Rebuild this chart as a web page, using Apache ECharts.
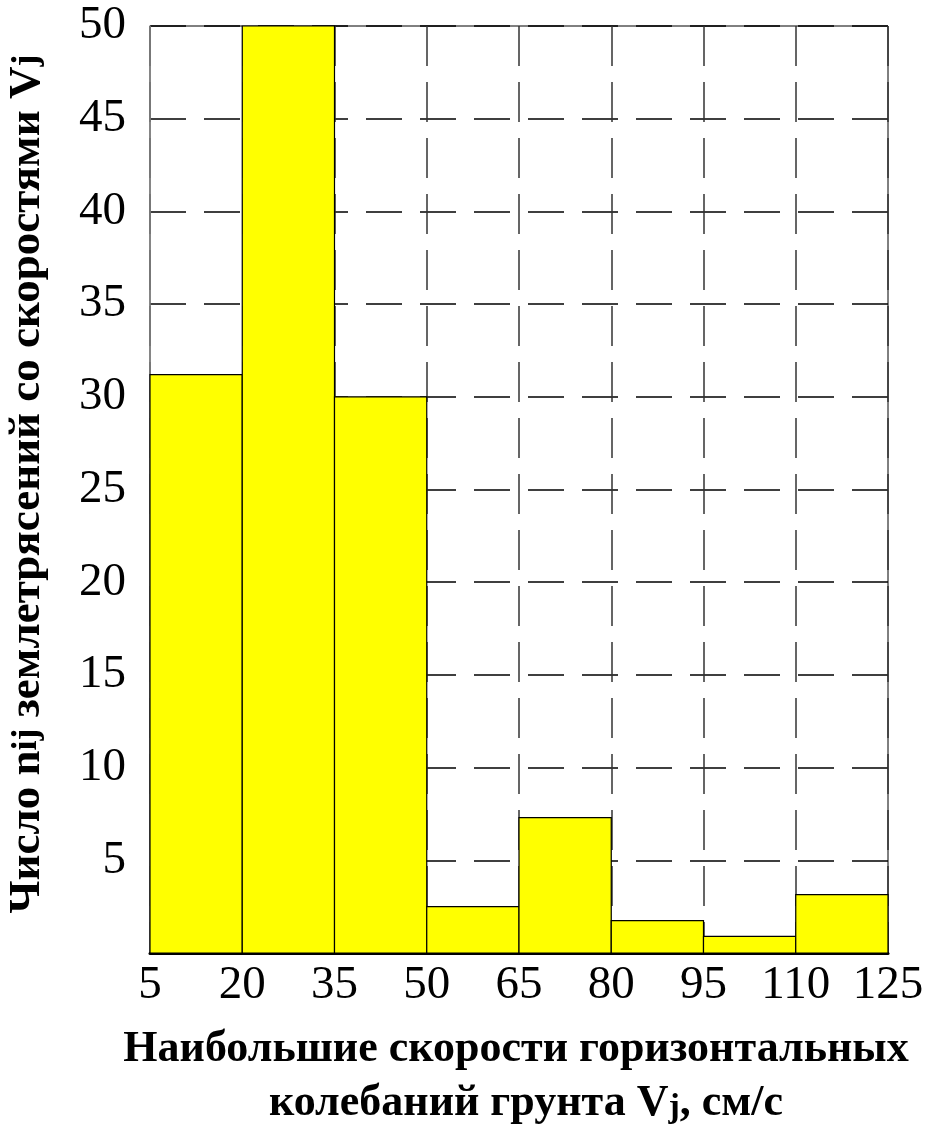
<!DOCTYPE html>
<html>
<head>
<meta charset="utf-8">
<script src="https://cdn.jsdelivr.net/npm/echarts@6/dist/echarts.min.js"></script>
<style>
html,body{margin:0;padding:0;background:#fff;}
#chart{width:941px;height:1133px;}
</style>
</head>
<body>
<div id="chart"></div>
<script>
// Histogram bins (cm/s) and counts
const binStart = [5, 20, 35, 50, 65, 80, 95, 110];
const binEnd   = [20, 35, 50, 65, 80, 95, 110, 125];
const counts   = [31.2, 50, 30, 2.5, 7.3, 1.75, 0.9, 3.15];
const xTicks = [5, 20, 35, 50, 65, 80, 95, 110, 125];
const yTicks = [5, 10, 15, 20, 25, 30, 35, 40, 45, 50];

const chart = echarts.init(document.getElementById('chart'));
const fontFam = '"Liberation Serif", "Times New Roman", serif';

const data = binStart.map((s, i) => [s, binEnd[i], counts[i]]);

chart.setOption({
  animation: false,
  backgroundColor: '#fff',
  grid: { left: 150, right: 53, top: 26, bottom: 180, show: true, borderColor: '#000', borderWidth: 1 },
  xAxis: {
    type: 'value', min: 5, max: 125, interval: 15,
    axisLine: { show: true, onZero: false, lineStyle: { color: '#000', width: 3 } },
    axisTick: { show: false },
    splitLine: { show: true, lineStyle: { color: '#333', width: 1.5, type: [40, 16] } },
    axisLabel: { color: '#000', fontFamily: fontFam, fontSize: 47, margin: 9,
      formatter: v => xTicks.includes(v) ? String(v) : '' }
  },
  yAxis: {
    type: 'value', min: 0, max: 50, interval: 5,
    axisLine: { show: true, lineStyle: { color: '#888', width: 1.5 } },
    axisTick: { show: false },
    splitLine: { show: true, lineStyle: { color: '#000', width: 1.5, type: [36, 18] } },
    axisLabel: { color: '#000', fontFamily: fontFam, fontSize: 47, margin: 24,
      formatter: v => yTicks.includes(v) ? String(v) : '' }
  },
  series: [{
    type: 'custom',
    data: data,
    encode: { x: [0, 1], y: 2 },
    renderItem: function (params, api) {
      const p0 = api.coord([api.value(0), 0]);
      const p1 = api.coord([api.value(1), api.value(2)]);
      return {
        type: 'rect',
        shape: { x: p0[0], y: p1[1], width: p1[0] - p0[0], height: p0[1] - p1[1] },
        style: { fill: '#FFFF00', stroke: '#000', lineWidth: 1.2 }
      };
    }
  }],
  graphic: [
    {
      type: 'text', x: 516, y: 1050,
      style: {
        text: 'Наибольшие скорости горизонтальных',
        font: 'bold 44px ' + fontFam, fill: '#000',
        align: 'center', verticalAlign: 'middle'
      }
    },
    {
      type: 'text', x: 526, y: 1104,
      style: {
        rich: {
          a: { font: 'bold 44px ' + fontFam, fill: '#000' },
          s: { font: 'bold 34px ' + fontFam, fill: '#000', padding: [8, 0, 0, 0] }
        },
        text: '{a|колебаний грунта V}{s|j}{a|, см/с}',
        align: 'center', verticalAlign: 'middle'
      }
    },
    {
      type: 'text', x: 27, y: 484, rotation: Math.PI / 2,
      style: {
        rich: {
          a: { font: 'bold 45px ' + fontFam, fill: '#000' },
          s: { font: 'bold 36px ' + fontFam, fill: '#000' }
        },
        text: '{a|Число n}{s|ij}{a| землетрясений со скоростями V}{s|j}',
        align: 'center', verticalAlign: 'middle'
      }
    }
  ]
});
</script>
</body>
</html>
